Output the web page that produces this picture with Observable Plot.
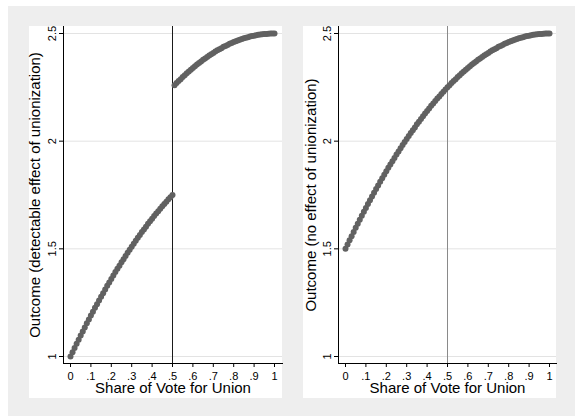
<!DOCTYPE html>
<html>
<head>
<meta charset="utf-8">
<script src="https://cdn.jsdelivr.net/npm/d3@7"></script>
<script src="https://cdn.jsdelivr.net/npm/@observablehq/plot@0.6"></script>
<style>
  html, body { margin: 0; padding: 0; background: #ffffff; }
  #page { position: relative; width: 578px; height: 417px; background: #ffffff; overflow: hidden; }
  #outer { position: absolute; left: 8px; top: 6px; width: 567px; height: 410px; background: #eeeeee; }
  .panel { position: absolute; top: 26px; }
  #left { left: 29px; }
  #right { left: 303px; }
</style>
</head>
<body>
<div id="page">
  <div id="outer"></div>
  <div class="panel" id="left"></div>
  <div class="panel" id="right"></div>
</div>
<script>
// ---- data ----
const share = [
  0.00,0.01,0.02,0.03,0.04,0.05,0.06,0.07,0.08,0.09,
  0.10,0.11,0.12,0.13,0.14,0.15,0.16,0.17,0.18,0.19,
  0.20,0.21,0.22,0.23,0.24,0.25,0.26,0.27,0.28,0.29,
  0.30,0.31,0.32,0.33,0.34,0.35,0.36,0.37,0.38,0.39,
  0.40,0.41,0.42,0.43,0.44,0.45,0.46,0.47,0.48,0.49,
  0.50,0.51,0.52,0.53,0.54,0.55,0.56,0.57,0.58,0.59,
  0.60,0.61,0.62,0.63,0.64,0.65,0.66,0.67,0.68,0.69,
  0.70,0.71,0.72,0.73,0.74,0.75,0.76,0.77,0.78,0.79,
  0.80,0.81,0.82,0.83,0.84,0.85,0.86,0.87,0.88,0.89,
  0.90,0.91,0.92,0.93,0.94,0.95,0.96,0.97,0.98,0.99,
  1.00
];

// left panel: outcome with a detectable effect (jump at .5)
const outcomeEffect = [
  1.000,1.020,1.040,1.059,1.078,1.098,1.116,1.135,1.154,1.172,
  1.190,1.208,1.226,1.243,1.260,1.278,1.294,1.311,1.328,1.344,
  1.360,1.376,1.392,1.407,1.422,1.438,1.452,1.467,1.482,1.496,
  1.510,1.524,1.538,1.551,1.564,1.578,1.590,1.603,1.616,1.628,
  1.640,1.652,1.664,1.675,1.686,1.698,1.708,1.719,1.730,1.740,
  1.750,2.260,2.270,2.279,2.288,2.298,2.306,2.315,2.324,2.332,
  2.340,2.348,2.356,2.363,2.370,2.378,2.384,2.391,2.398,2.404,
  2.410,2.416,2.422,2.427,2.432,2.438,2.442,2.447,2.452,2.456,
  2.460,2.464,2.468,2.471,2.474,2.478,2.480,2.483,2.486,2.488,
  2.490,2.492,2.494,2.495,2.496,2.498,2.498,2.499,2.500,2.500,
  2.500
];

// right panel: outcome with no effect
const outcomeNoEffect = [
  1.500,1.520,1.540,1.559,1.578,1.598,1.616,1.635,1.654,1.672,
  1.690,1.708,1.726,1.743,1.760,1.778,1.794,1.811,1.828,1.844,
  1.860,1.876,1.892,1.907,1.922,1.938,1.952,1.967,1.982,1.996,
  2.010,2.024,2.038,2.051,2.064,2.078,2.090,2.103,2.116,2.128,
  2.140,2.152,2.164,2.175,2.186,2.198,2.208,2.219,2.230,2.240,
  2.250,2.260,2.270,2.279,2.288,2.298,2.306,2.315,2.324,2.332,
  2.340,2.348,2.356,2.363,2.370,2.378,2.384,2.391,2.398,2.404,
  2.410,2.416,2.422,2.427,2.432,2.438,2.442,2.447,2.452,2.456,
  2.460,2.464,2.468,2.471,2.474,2.478,2.480,2.483,2.486,2.488,
  2.490,2.492,2.494,2.495,2.496,2.498,2.498,2.499,2.500,2.500,
  2.500
];

const cutoff = 0.5;
const xTicks = [0, 0.1, 0.2, 0.3, 0.4, 0.5, 0.6, 0.7, 0.8, 0.9, 1];
const xTickLabels = ["0", ".1", ".2", ".3", ".4", ".5", ".6", ".7", ".8", ".9", "1"];
const yTicks = [1, 1.5, 2, 2.5];
const yTickLabels = ["1", "1.5", "2", "2.5"];
const xTitle = "Share of Vote for Union";
const yTitleLeft = "Outcome (detectable effect of unionization)";
const yTitleRight = "Outcome (no effect of unionization)";

// ---- drawing ----
const FONT = "'Liberation Sans', Arial, Helvetica, sans-serif";

function panel(values, yTitle, opts) {
  const rows = share.map((s, i) => ({share: s, outcome: values[i]}));
  const yLabelRows = yTicks.map((t, i) => ({tick: t, label: yTickLabels[i]}));
  return Plot.plot({
    width: 253,
    height: 372,
    marginLeft: opts.marginLeft,
    marginRight: 0,
    marginTop: 0,
    marginBottom: 35,
    style: {fontFamily: FONT, background: "#ffffff", color: "#000000", overflow: "visible"},
    x: {domain: [0, 1], insetLeft: 7, insetRight: opts.insetRight},
    y: {domain: [1, 2.5], insetTop: 7, insetBottom: 7},
    marks: [
      Plot.gridY(yTicks, {stroke: "#e3e3e3", strokeOpacity: 1, strokeWidth: 1}),
      Plot.ruleX([cutoff], {stroke: opts.cutColor, strokeWidth: 1}),
      Plot.dot(rows, {x: "share", y: "outcome", r: 3, fill: "#616161", stroke: "none"}),
      Plot.axisX(xTicks, {
        tickSize: 4, tickPadding: 5, fontSize: 11, stroke: "#000",
        tickFormat: (d, i) => xTickLabels[i], label: null
      }),
      Plot.axisY(yTicks, {
        tickSize: 4, stroke: "#000", tickFormat: () => "", label: null
      }),
      Plot.text(yLabelRows, {
        y: "tick", text: "label", frameAnchor: "left", dx: -11, rotate: -90,
        textAnchor: "middle", lineAnchor: "middle", fontSize: 11, fill: "#000"
      }),
      Plot.frame({anchor: "left", stroke: "#000"}),
      Plot.frame({anchor: "bottom", stroke: "#000"}),
      Plot.text([xTitle], {frameAnchor: "bottom", dy: 25, fontSize: 15, textAnchor: "middle", lineAnchor: "middle", fill: "#000"}),
      Plot.text([yTitle], {frameAnchor: "left", dx: opts.titleDx, rotate: -90, fontSize: 15, textAnchor: "middle", lineAnchor: "middle", fill: "#000"})
    ]
  });
}

document.getElementById("left").appendChild(
  panel(outcomeEffect, yTitleLeft, {marginLeft: 34, insetRight: 8, cutColor: "#1a1a1a", titleDx: -28})
);
document.getElementById("right").appendChild(
  panel(outcomeNoEffect, yTitleRight, {marginLeft: 35, insetRight: 7, cutColor: "#8a8a8a", titleDx: -27})
);
</script>
</body>
</html>
